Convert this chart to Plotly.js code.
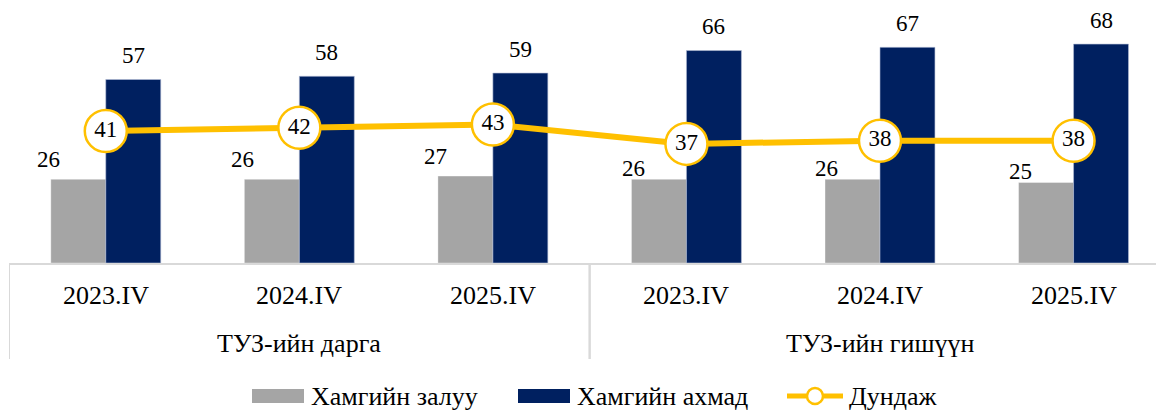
<!DOCTYPE html>
<html>
<head>
<meta charset="utf-8">
<script src="https://cdn.plot.ly/plotly-3.0.1.min.js"></script>
<style>
  html, body { margin: 0; padding: 0; background: #ffffff; }
  #chart { width: 1156px; height: 410px; }
</style>
</head>
<body>
<div id="chart"></div>
<script>
// ---- data ----
const groups = ["ТУЗ-ийн дарга", "ТУЗ-ийн дарга", "ТУЗ-ийн дарга",
                "ТУЗ-ийн гишүүн", "ТУЗ-ийн гишүүн", "ТУЗ-ийн гишүүн"];
const periods = ["2023.IV", "2024.IV", "2025.IV", "2023.IV", "2024.IV", "2025.IV"];
const youngest = [26, 26, 27, 26, 26, 25];
const oldest = [57, 58, 59, 66, 67, 68];
const average = [41, 42, 43, 37, 38, 38];
const seriesNames = ["Хамгийн залуу", "Хамгийн ахмад", "Дундаж"];

// ---- styles ----
const FONT = "Liberation Serif, Times New Roman, serif";
const GRAY = "#A5A5A5";
const NAVY = "#002060";
const GOLD = "#FFC000";
const AXIS = "#D9D9D9";
const LABEL_SIZE = 23;
const AXIS_SIZE = 26;

const W = 1156, H = 410;
const M = { l: 9, r: 0, t: 0, b: 147 };
const pw = W - M.l - M.r, ph = H - M.t - M.b;
const px2x = px => (px - M.l) / pw;
const px2y = py => (M.t + ph - py) / ph;

const xcat = [groups, periods];

const traces = [
  {
    type: "bar", name: seriesNames[0], x: xcat, y: youngest,
    marker: { color: GRAY, line: { color: "rgba(255,255,255,0.35)", width: 1 } },
    hoverinfo: "skip", showlegend: false
  },
  {
    type: "bar", name: seriesNames[1], x: xcat, y: oldest,
    marker: { color: NAVY, line: { color: "rgba(180,190,215,0.6)", width: 1 } },
    hoverinfo: "skip", showlegend: false
  },
  {
    type: "scatter", mode: "lines+markers+text", name: seriesNames[2], x: xcat, y: average,
    line: { color: GOLD, width: 6 },
    marker: { size: 42, color: "#FFFFFF", line: { color: GOLD, width: 2.5 } },
    text: average.map(String), textposition: "middle center",
    textfont: { family: FONT, size: LABEL_SIZE, color: "#000000" },
    cliponaxis: false, hoverinfo: "skip", showlegend: false
  }
];

const annotations = [];
const shapes = [];

// value labels for bars (per-group offsets are style only)
const grayShift = { "ТУЗ-ийн дарга": { dx: -57, dy: 20 }, "ТУЗ-ийн гишүүн": { dx: -53, dy: 11 } };
youngest.forEach((v, i) => {
  const s = grayShift[groups[i]];
  annotations.push({
    x: i, y: v, xref: "x", yref: "y", text: String(v), showarrow: false,
    xanchor: "center", yanchor: "middle", xshift: s.dx, yshift: s.dy,
    font: { family: FONT, size: LABEL_SIZE, color: "#000000" }
  });
});
oldest.forEach((v, i) => {
  annotations.push({
    x: i, y: v, xref: "x", yref: "y", text: String(v), showarrow: false,
    xanchor: "center", yanchor: "middle", xshift: 27.5, yshift: 24,
    font: { family: FONT, size: LABEL_SIZE, color: "#000000" }
  });
});

// two-level category labels and dividers
periods.forEach((p, i) => {
  annotations.push({
    x: i, xref: "x", yref: "paper", y: px2y(295), text: p, showarrow: false,
    xanchor: "center", yanchor: "middle",
    font: { family: FONT, size: AXIS_SIZE, color: "#000000" }
  });
});
const groupOrder = [...new Set(groups)];
groupOrder.forEach(g => {
  const idx = groups.map((v, i) => v === g ? i : -1).filter(i => i >= 0);
  const first = idx[0], last = idx[idx.length - 1];
  annotations.push({
    x: (first + last) / 2, xref: "x", yref: "paper", y: px2y(343), text: g, showarrow: false,
    xanchor: "center", yanchor: "middle",
    font: { family: FONT, size: AXIS_SIZE, color: "#000000" }
  });
  [first - 0.5, last + 0.5].forEach(b => {
    shapes.push({ type: "line", xref: "x", yref: "paper",
      x0: b, x1: b, y0: 0, y1: px2y(359),
      line: { color: AXIS, width: 2 }, layer: "below" });
  });
});

// custom legend (shapes + text)
const legY = 396;
shapes.push({ type: "rect", xref: "paper", yref: "paper",
  x0: px2x(252), x1: px2x(304), y0: px2y(403), y1: px2y(389),
  fillcolor: GRAY, line: { width: 0 } });
shapes.push({ type: "rect", xref: "paper", yref: "paper",
  x0: px2x(518), x1: px2x(570), y0: px2y(403), y1: px2y(389),
  fillcolor: NAVY, line: { width: 0 } });
shapes.push({ type: "line", xref: "paper", yref: "paper",
  x0: px2x(787), x1: px2x(843), y0: px2y(legY), y1: px2y(legY),
  line: { color: GOLD, width: 5 } });
shapes.push({ type: "circle", xref: "paper", yref: "paper",
  x0: px2x(807), x1: px2x(823), y0: px2y(legY + 8), y1: px2y(legY - 8),
  fillcolor: "#FFFFFF", line: { color: GOLD, width: 2.5 } });
[[309, seriesNames[0]], [575, seriesNames[1]], [847, seriesNames[2]]].forEach(([px, t]) => {
  annotations.push({ xref: "paper", yref: "paper", x: px2x(px), y: px2y(legY),
    xanchor: "left", yanchor: "middle", text: t, showarrow: false,
    font: { family: FONT, size: AXIS_SIZE, color: "#000000" } });
});

const layout = {
  width: W, height: H,
  margin: M,
  paper_bgcolor: "#FFFFFF", plot_bgcolor: "#FFFFFF",
  barmode: "group", bargap: 0.432, bargroupgap: 0,
  showlegend: false,
  font: { family: FONT, size: AXIS_SIZE, color: "#000000" },
  xaxis: {
    type: "multicategory",
    range: [-0.5, 5.426],
    showline: true, linecolor: AXIS, linewidth: 2,
    showdividers: false, showticklabels: false,
    ticks: "", showgrid: false, zeroline: false,
    fixedrange: true
  },
  yaxis: {
    range: [0, 81.7], visible: false, showgrid: false, zeroline: false, fixedrange: true
  },
  shapes: shapes,
  annotations: annotations
};

Plotly.newPlot("chart", traces, layout, { displayModeBar: false, staticPlot: true });
</script>
</body>
</html>
